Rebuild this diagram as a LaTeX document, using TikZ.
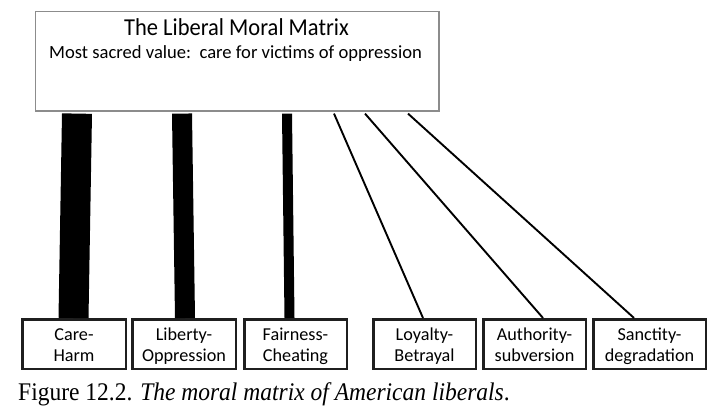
\documentclass[tikz,border=0pt]{standalone}
\usepackage{fontspec}
\setmainfont{Liberation Serif}
\newfontfamily\carl{Carlito}
\usetikzlibrary{calc}
\newcommand{\topstrut}{\rule{0pt}{20.5pt}}
\newcommand{\botstrut}{\rule[-6.6pt]{0pt}{6pt}}
\newcommand{\vstretch}[1]{\scalebox{1}[1.08]{#1}}
\tikzset{
  topbox/.style={draw=black!45, line width=1.3pt, fill=white, inner sep=0pt, anchor=north west},
  labbox/.style={draw=black!88, line width=2.5pt, inner sep=0pt, minimum height=49.5pt,
     align=center, font=\carl\fontsize{18.2}{21.7}\selectfont},
  bar/.style={line width=#1, line cap=butt, black},
  thin/.style={line width=1.9pt, black},
}
\begin{document}
\begin{tikzpicture}[x=1pt,y=1pt]
\useasboundingbox (0,0) rectangle (712,-414);
\node[topbox, minimum width=403.7pt, minimum height=99.7pt] (top) at (34.6,-10.6) {};
\node[anchor=base, font=\carl\fontsize{22.5}{27}\selectfont, inner sep=0pt] (title) at (236.5,-36) {\vstretch{The Liberal Moral Matrix}};
\node[anchor=base, font=\carl\fontsize{18.6}{22}\selectfont, inner sep=0pt] (sub) at (235.5,-58.3) {Most sacred value:\ \ care for victims of oppression};

\node[labbox, minimum width=103.5pt] (care) at (74,-344) {\topstrut Care-\\Harm\botstrut};
\node[labbox, minimum width=103.5pt] (lib) at (184,-344) {\topstrut Liberty-\\Oppression\botstrut};
\node[labbox, minimum width=102.5pt] (fair) at (295.5,-344) {\topstrut Fairness-\\Cheating\botstrut};
\node[labbox, minimum width=102.5pt] (loy) at (424.5,-344) {\topstrut Loyalty-\\Betrayal\botstrut};
\node[labbox, minimum width=102.5pt] (auth) at (534.5,-344) {\topstrut Authority-\\subversion\botstrut};
\node[labbox, minimum width=112.5pt] (sanc) at (649.5,-344) {\topstrut Sanctity-\\degradation\botstrut};

% attachment points on the top box
\coordinate (t1) at ($(top.south west)+(42.4,-2)$);
\coordinate (t2) at ($(top.south west)+(147.4,-2)$);
\coordinate (t3) at ($(top.south west)+(252.4,-2)$);
\coordinate (t4) at ($(top.south west)+(299.4,-2)$);
\coordinate (t5) at ($(top.south west)+(330.4,-2)$);
\coordinate (t6) at ($(top.south west)+(373.4,-2)$);

\draw[bar=30pt] (t1) -- ([xshift=-0.5pt]care.north);
\draw[bar=20pt] (t2) -- ([xshift=1pt]lib.north);
\draw[bar=10pt] (t3) -- ([xshift=-6pt]fair.north);
\draw[thin] (t4) -- ([xshift=-1.5pt]loy.north);
\draw[thin] (t5) -- ([xshift=8.5pt]auth.north);
\draw[thin] (t6) -- ([xshift=-15.5pt]sanc.north);

\node[anchor=base west, font=\fontsize{23.5}{28}\selectfont, inner sep=0pt] (cap) at (18,-400)
  {\vstretch{Figure 12.2. \textit{The moral matrix of American liberals}.}};
\end{tikzpicture}
\end{document}
